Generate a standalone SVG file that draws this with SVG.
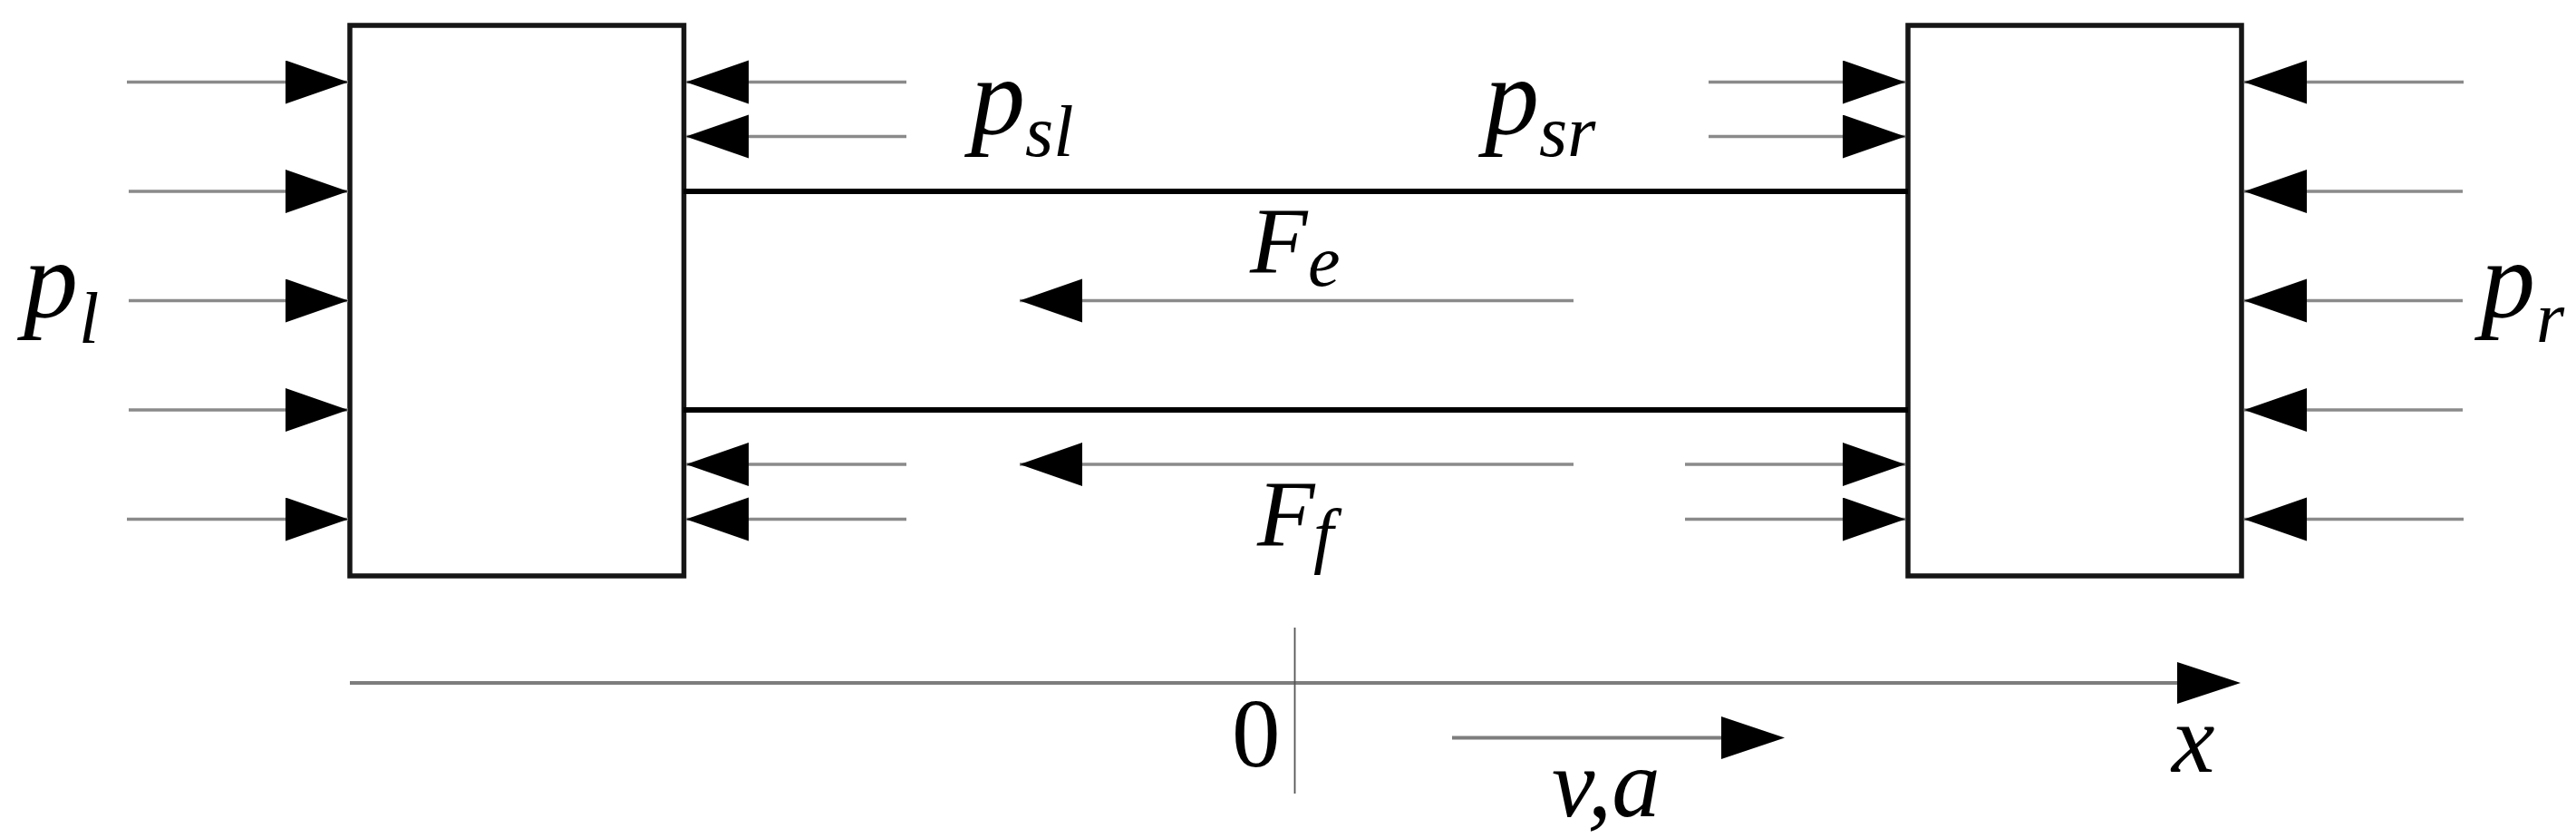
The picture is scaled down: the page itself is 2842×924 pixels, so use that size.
<svg xmlns="http://www.w3.org/2000/svg" width="2842" height="924" viewBox="0 0 2842 924">
<style>
.block{fill:#fff;stroke:#151515;stroke-width:5.5}
.bar{stroke:#000;stroke-width:6;fill:none}
.force{stroke:#8a8a8a;stroke-width:3.6;fill:none;marker-end:url(#head)}
.axis{stroke:#7d7d7d;stroke-width:4;fill:none}
.tick{stroke:#555;stroke-width:1.8;fill:none}
.big{font-size:120px}
.cap{font-size:104px}
.sub{font-size:80px}
.num{font-size:107px}
</style>
<defs>
<marker id="head" markerUnits="userSpaceOnUse" markerWidth="72" markerHeight="50" refX="69" refY="24" orient="auto"><path d="M0 0L69 24L0 48Z" fill="#000"/></marker>
<filter id="soft" x="-5%" y="-5%" width="110%" height="110%"><feGaussianBlur stdDeviation="0.7"/></filter>
</defs>
<rect width="2842" height="924" fill="#fff"/>
<g filter="url(#soft)">
<g id="left-block"><rect class="block" x="386" y="28" width="368.5" height="607"/></g>
<g id="right-block"><rect class="block" x="2105" y="28" width="368" height="607"/></g>
<g id="connectors">
<path class="bar" d="M754 211H2105"/>
<path class="bar" d="M754 452H2105"/>
<path class="force" d="M140 90.5H384"/>
<path class="force" d="M142 211H384"/>
<path class="force" d="M142 331.5H384"/>
<path class="force" d="M142 452H384"/>
<path class="force" d="M140 572.5H384"/>
<path class="force" d="M1000 90.5H757"/>
<path class="force" d="M1000 150.5H757"/>
<path class="force" d="M1000 512H757"/>
<path class="force" d="M1000 572.5H757"/>
<path class="force" d="M1736 331.5H1125"/>
<path class="force" d="M1736 512H1125"/>
<path class="force" d="M1885 90.5H2102"/>
<path class="force" d="M1885 150.5H2102"/>
<path class="force" d="M1859 512H2102"/>
<path class="force" d="M1859 572.5H2102"/>
<path class="force" d="M2718 90.5H2476"/>
<path class="force" d="M2717 211H2476"/>
<path class="force" d="M2717 331.5H2476"/>
<path class="force" d="M2717 452H2476"/>
<path class="force" d="M2718 572.5H2476"/>
<path class="axis" d="M386 753H2402"/>
<path d="M2402 730L2472 753L2402 776Z" fill="#000"/>
<path class="tick" d="M1428.5 692V875"/>
<path class="axis" d="M1602 813.5H1899"/>
<path d="M1899 790L1969 813.5L1899 837Z" fill="#000"/>
</g>
</g>
<g id="labels" font-family="'Liberation Serif', 'Times New Roman', serif" font-style="italic" fill="#000" filter="url(#soft)">
<g id="label-pl"><text class="big" x="26" y="349">p</text><text class="sub" x="87" y="378">l</text></g>
<g id="label-psl"><text class="big" x="1071" y="147">p</text><text class="sub" x="1131" y="172">sl</text></g>
<g id="label-psr"><text class="big" x="1638" y="147">p</text><text class="sub" x="1698" y="172">sr</text></g>
<g id="label-pr"><text class="big" x="2737" y="349">p</text><text class="sub" x="2798" y="377">r</text></g>
<g id="label-fe"><text class="cap" x="1379" y="301">F</text><text class="sub" x="1443" y="315">e</text></g>
<g id="label-ff"><text class="cap" x="1387" y="602">F</text><text class="sub" x="1449" y="617">f</text></g>
<g id="label-zero"><text class="num" font-style="normal" x="1359" y="845">0</text></g>
<g id="label-x"><text class="num" x="2396" y="851">x</text></g>
<g id="label-va"><text class="num" x="1712" y="900">v,a</text></g>
</g>
</svg>
